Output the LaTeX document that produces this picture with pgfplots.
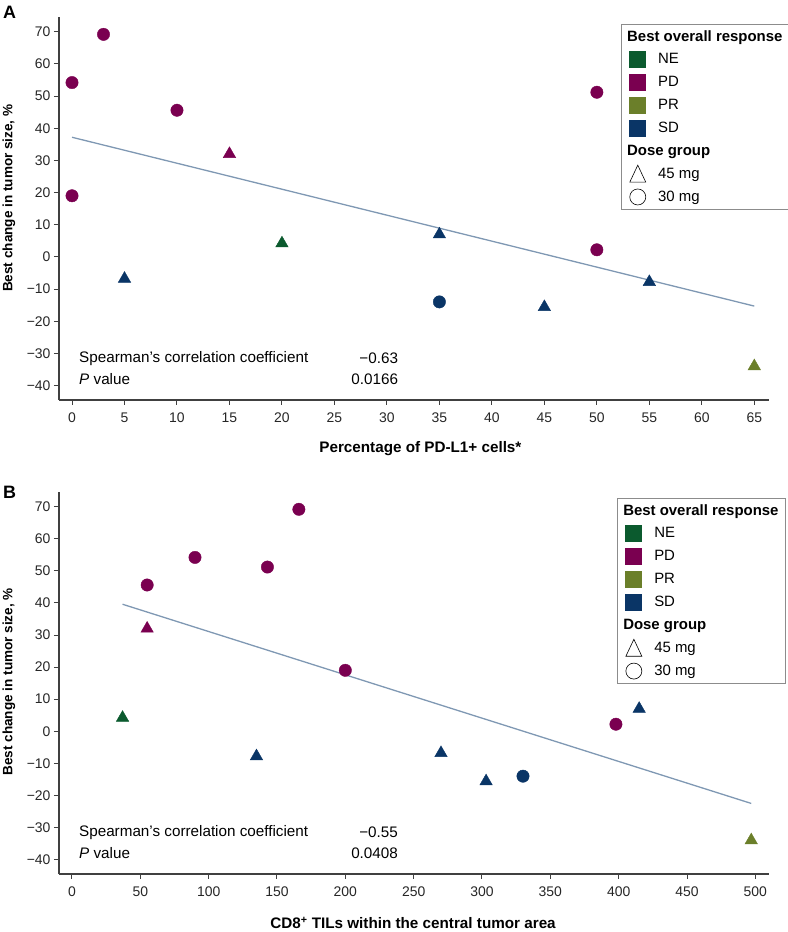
\documentclass[border=0pt]{standalone}
\usepackage{fontspec}
\setmainfont{Liberation Sans}
\usepackage{pgfplots}
\pgfplotsset{compat=1.18}
\definecolor{ne}{HTML}{0B5A2E}
\definecolor{pd}{HTML}{7A0050}
\definecolor{pr}{HTML}{6B7F2A}
\definecolor{sd}{HTML}{0A3566}
\definecolor{fitc}{HTML}{7F98B3}
\pgfplotsset{
  panel/.style={
    scale only axis, width=710bp, height=383bp,
    axis x line*=bottom, axis y line*=left,
    axis line style={color=black!75, line width=1.3bp},
    every tick/.style={color=black!75, line width=1bp},
    tick align=outside, major tick length=5bp,
    ymin=-44.5, ymax=74.6,
    ytick={-40,-30,...,70},
    yticklabels={−40,−30,−20,−10,0,10,20,30,40,50,60,70},
    ticklabel style={font=\fontsize{14}{16}\selectfont, text=black!85},
    x tick label style={yshift=-4bp},
    /pgf/number format/assume math mode=true,
    x label style={anchor=center, yshift=-49bp, font=\bfseries\fontsize{15.3}{17}\selectfont},
    y label style={anchor=center, yshift=50bp, font=\bfseries\fontsize{13.6}{15}\selectfont},
    ylabel={Best change in tumor size, \%},
    legend cell align=left,
    legend style={draw=black!45, line width=0.8bp, font=\fontsize{15}{17}\selectfont,
      row sep=6.2bp, column sep=10bp, inner xsep=5bp, inner ysep=4bp, anchor=north west},
    mk/.style={only marks, mark options={draw=none}},
  },
  hdr/.style={legend image code/.code={}},
  sq/.style={legend image code/.code={\path (0bp,0bp); \fill[#1] (3bp,-8bp) rectangle (19bp,8bp);}},
  tri/.style={legend image code/.code={\path (0bp,0bp); \draw[black, line width=0.6bp] (3bp,-8bp) -- (19bp,-8bp) -- (11bp,9bp) -- cycle;}},
  circ/.style={legend image code/.code={\path (0bp,0bp); \draw[black, line width=0.6bp] (11bp,0bp) circle (8bp);}},
}
\newcommand{\legendbody}{%
  \addlegendimage{hdr}\addlegendentry{\hspace*{-31bp}\textbf{Best overall response}}
  \addlegendimage{sq=ne}\addlegendentry{NE}
  \addlegendimage{sq=pd}\addlegendentry{PD}
  \addlegendimage{sq=pr}\addlegendentry{PR}
  \addlegendimage{sq=sd}\addlegendentry{SD}
  \addlegendimage{hdr}\addlegendentry{\hspace*{-31bp}\textbf{Dose group}}
  \addlegendimage{tri}\addlegendentry{45 mg}
  \addlegendimage{circ}\addlegendentry{30 mg}
}
\newcommand{\stxt}{\fontsize{15.3}{17}\selectfont}
\begin{document}
\begin{tikzpicture}
% Panel A
\begin{axis}[panel, at={(59bp,532bp)}, anchor=south west,
  xmin=-1.24, xmax=66.4, xtick={0,5,...,65},
  xticklabels={0,5,10,15,20,25,30,35,40,45,50,55,60,65},
  xlabel={Percentage of PD-L1+ cells*},
  x label style={at={(axis description cs:0.509,0)}},
  y label style={at={(axis description cs:0,0.527)}},
  legend style={at={(axis description cs:0.7915,0.9817)}}]
\legendbody
\addplot[fitc, line width=1.3bp, forget plot] coordinates {(0,37.2) (65,-15.3)};
\addplot[mk, forget plot, mark=*, mark size=6.2bp, pd] coordinates {(0,54.2) (3,69.2) (10,45.6) (0,19) (50,51.2) (50,2.2)};
\addplot[mk, forget plot, mark=triangle*, mark size=7.2bp, pd] coordinates {(15,32)};
\addplot[mk, forget plot, mark=triangle*, mark size=7.2bp, ne] coordinates {(20,4.2)};
\addplot[mk, forget plot, mark=triangle*, mark size=7.2bp, sd] coordinates {(5,-6.8) (35,7) (45,-15.6) (55,-7.8)};
\addplot[mk, forget plot, mark=*, mark size=6.2bp, sd] coordinates {(35,-14)};
\addplot[mk, forget plot, mark=triangle*, mark size=7.2bp, pr] coordinates {(65,-34)};
\node[anchor=west, font=\stxt, inner sep=0pt] at (axis cs:0.67,-31.6) {Spearman’s correlation coefficient};
\node[anchor=west, font=\stxt, inner sep=0pt] at (axis cs:0.67,-38) {\textit{P} value};
\node[anchor=east, font=\stxt, inner sep=0pt] at (axis cs:31.08,-31.6) {−0.63};
\node[anchor=east, font=\stxt, inner sep=0pt] at (axis cs:31.08,-38) {0.0166};
\end{axis}
% Panel B
\begin{axis}[panel, at={(59bp,58bp)}, anchor=south west, height=382bp,
  xmin=-9.5, xmax=510, xtick={0,50,...,500},
  xticklabels={0,50,100,150,200,250,300,350,400,450,500},
  xlabel={CD8\textsuperscript{+} TILs within the central tumor area},
  x label style={at={(axis description cs:0.4986,0)}},
  y label style={at={(axis description cs:0,0.503)}},
  legend style={at={(axis description cs:0.786,0.984)}}]
\legendbody
\addplot[fitc, line width=1.3bp, forget plot] coordinates {(37,39.6) (497,-22.5)};
\addplot[mk, forget plot, mark=*, mark size=6.2bp, pd] coordinates {(55,45.6) (90,54.2) (143,51.2) (166,69.2) (200,19) (398,2.2)};
\addplot[mk, forget plot, mark=triangle*, mark size=7.2bp, pd] coordinates {(55,32)};
\addplot[mk, forget plot, mark=triangle*, mark size=7.2bp, ne] coordinates {(37,4.2)};
\addplot[mk, forget plot, mark=triangle*, mark size=7.2bp, sd] coordinates {(135,-7.8) (270,-6.8) (303,-15.6) (415,7)};
\addplot[mk, forget plot, mark=*, mark size=6.2bp, sd] coordinates {(330,-14)};
\addplot[mk, forget plot, mark=triangle*, mark size=7.2bp, pr] coordinates {(497,-34)};
\node[anchor=west, font=\stxt, inner sep=0pt] at (axis cs:5.1,-31.6) {Spearman’s correlation coefficient};
\node[anchor=west, font=\stxt, inner sep=0pt] at (axis cs:5.1,-38) {\textit{P} value};
\node[anchor=east, font=\stxt, inner sep=0pt] at (axis cs:238.6,-31.6) {−0.55};
\node[anchor=east, font=\stxt, inner sep=0pt] at (axis cs:238.6,-38) {0.0408};
\end{axis}
\node[font=\bfseries\fontsize{18}{20}\selectfont] at (9.5bp,920bp) {A};
\node[font=\bfseries\fontsize{18}{20}\selectfont] at (9.5bp,440bp) {B};
\pgfresetboundingbox
\path (0bp,0bp) rectangle (788bp,932bp);
\end{tikzpicture}
\end{document}
